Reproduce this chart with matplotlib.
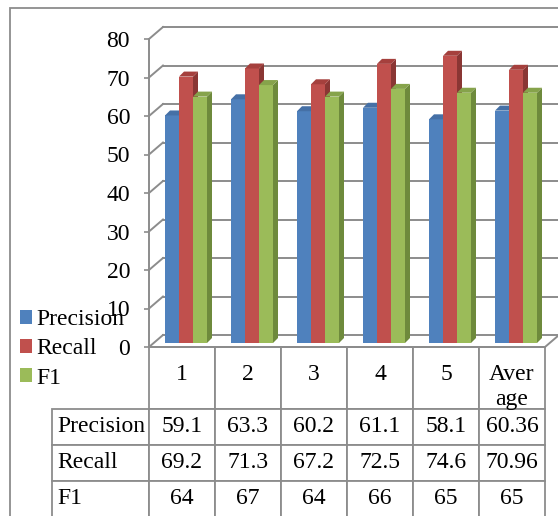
import matplotlib
matplotlib.use("Agg")
import matplotlib.pyplot as plt
from matplotlib.patches import Patch, Polygon, Rectangle
from matplotlib.transforms import ScaledTranslation, IdentityTransform
import numpy as np

categories = ["1", "2", "3", "4", "5", "Aver\nage"]
series_names = ["Precision", "Recall", "F1"]
precision = [59.1, 63.3, 60.2, 61.1, 58.1, 60.36]
recall = [69.2, 71.3, 67.2, 72.5, 74.6, 70.96]
f1 = [64, 67, 64, 66, 65, 65]
y_ticks = [0, 10, 20, 30, 40, 50, 60, 70, 80]

front_c = ["#4F81BD", "#C0504D", "#9BBB59"]
side_c = ["#3A5F8C", "#8A3634", "#6E8A3C"]
top_c = ["#4570A6", "#A5403D", "#86A34B"]
grid_c = "#8c8c8c"

plt.rcParams["font.family"] = ["Liberation Serif", "DejaVu Serif"]
plt.rcParams["font.size"] = 17

W, H = 558, 516
AX_W, AX_H = 396, 308
fig = plt.figure(figsize=(W / 100, H / 100), dpi=100)
ax = fig.add_axes([149 / W, 1 - 347 / H, AX_W / W, AX_H / H])
ax.set_xlim(-0.5, 5.5)
ax.set_ylim(0, 80)
ax.set_autoscale_on(False)

# outer chart frame (cut off at right/bottom like the screenshot)
fig.add_artist(Rectangle((10 / W, -0.1), 1.2, 1 - 8 / H + 0.1, transform=fig.transFigure,
                         fill=False, edgecolor=grid_c, lw=1.3))

# back wall + floor (3d offset)
DX, DY = 14, 12
back = ax.transData + ScaledTranslation(DX / 100, DY / 100, fig.dpi_scale_trans)
for v in y_ticks:
    ax.plot([-0.5, 8], [v, v], transform=back, color=grid_c, lw=1.4, clip_on=False, zorder=1)
    x0, y0 = ax.transData.transform((-0.5, v))
    ax.plot([x0, x0 + DX], [y0, y0 + DY], transform=IdentityTransform(),
            color=grid_c, lw=1.4, clip_on=False, zorder=1)
x0, y0 = ax.transData.transform((5.5, 0))
ax.plot([x0, x0 + DX], [y0, y0 + DY], transform=IdentityTransform(),
        color=grid_c, lw=1.4, clip_on=False, zorder=1)

# bars
w = 14 / 66
d = 5
shift = ax.transData + ScaledTranslation(4 / 100, 4 / 100, fig.dpi_scale_trans)
x = np.arange(len(categories))
for i, vals in enumerate([precision, recall, f1]):
    z = 3 + i
    bars = ax.bar(x + (i - 1) * w, vals, width=w, color=front_c[i], transform=shift,
                  zorder=z, clip_on=False)
    for b in bars:
        (xl, yb), (xr, yt) = shift.transform([(b.get_x(), 0), (b.get_x() + w, b.get_height())])
        ax.add_patch(Polygon([(xr, yb), (xr, yt), (xr + d, yt + d), (xr + d, yb + d)],
                             transform=IdentityTransform(), facecolor=side_c[i],
                             edgecolor="none", zorder=z, clip_on=False))
        ax.add_patch(Polygon([(xl, yt), (xr, yt), (xr + d, yt + d), (xl + d, yt + d)],
                             transform=IdentityTransform(), facecolor=top_c[i],
                             edgecolor="none", zorder=z, clip_on=False))

for s in ["top", "right"]:
    ax.spines[s].set_visible(False)
for s in ["left", "bottom"]:
    ax.spines[s].set_color(grid_c)
    ax.spines[s].set_linewidth(1.4)
    ax.spines[s].set_zorder(2)

ax.set_yticks(y_ticks)
ax.tick_params(axis="y", length=3.6, width=1.2, color=grid_c, pad=10)
ax.set_xticks(x, categories)
ax.tick_params(axis="x", length=0, pad=12)
for lab in ax.get_xticklabels():
    lab.set_linespacing(1.25)

# data table under the axes; row labels hang off to the left
cell_text = [[f"{v:g}" for v in s] for s in [precision, recall, f1]]
tbl = ax.table(cellText=cell_text, rowLabels=series_names, colLabels=[""] * len(categories),
               cellLoc="center", rowLoc="left", loc="bottom")
tbl.auto_set_font_size(False)
tbl.set_fontsize(17)
for (r, c), cell in tbl.get_celld().items():
    cell.set_width((101 if c == -1 else 66) / AX_W)
    cell.set_height((62 if r == 0 else 36) / AX_H)
    cell.set_edgecolor(grid_c)
    cell.set_linewidth(1.3)
    if c == -1:
        cell.PAD = 0.05

handles = [Patch(facecolor=c) for c in front_c]
fig.legend(handles, series_names, loc="center left", bbox_to_anchor=(20 / W, 1 - 349 / H),
           frameon=False, handlelength=0.5, handleheight=0.5, handletextpad=0.2,
           labelspacing=0.34, borderpad=0, borderaxespad=0)

fig.savefig("out.png", dpi=100)
